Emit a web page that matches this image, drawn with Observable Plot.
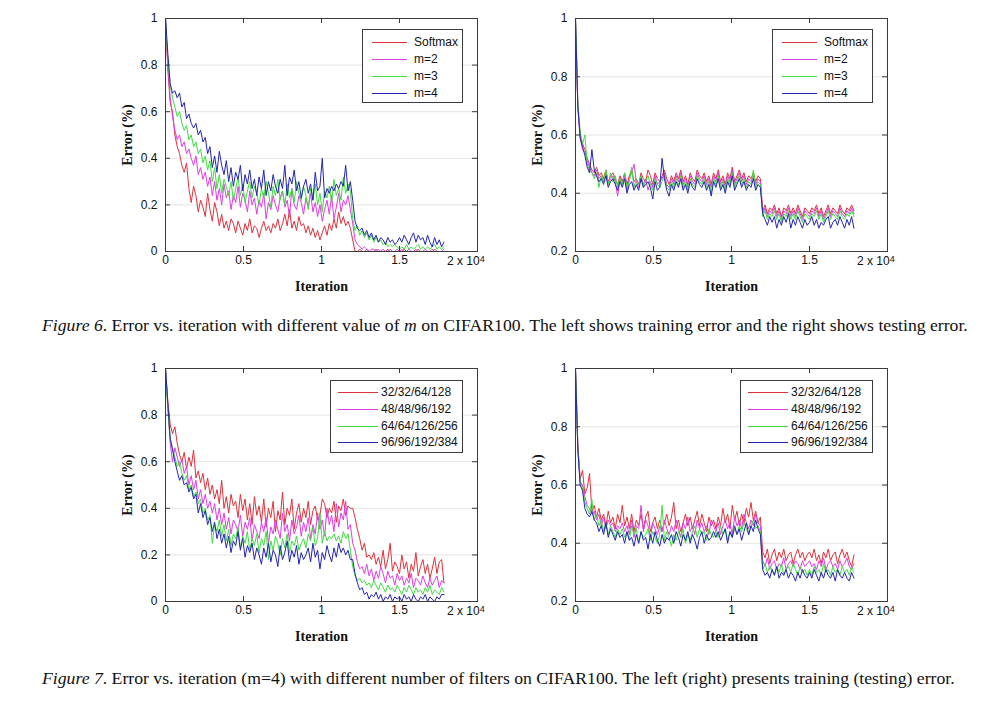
<!DOCTYPE html>
<html><head><meta charset="utf-8">
<script src="https://cdn.jsdelivr.net/npm/d3@7"></script>
<script src="https://cdn.jsdelivr.net/npm/@observablehq/plot@0.6"></script>
<style>
body{margin:0;background:#fff;}
#root{position:relative;width:1006px;height:716px;overflow:hidden;background:#fff;}
.panel{position:absolute;}
.panel svg{overflow:visible;}
g[aria-label="x-axis label"] text, g[aria-label="y-axis label"] text{font-family:"Liberation Serif","Times New Roman",serif !important;font-size:14px !important;font-weight:bold !important;fill:#111;}
.legend{position:absolute;border:1px solid #3a3a3a;background:#fff;font:12px "Liberation Sans",Arial,sans-serif;color:#111;box-sizing:border-box;}
.legend .sw{position:absolute;height:0;border-top:1px solid;}
.legend .lb{position:absolute;white-space:nowrap;line-height:14px;}
.expo{position:absolute;font:12px "Liberation Sans",Arial,sans-serif;color:#111;white-space:nowrap;line-height:14px;}
.expo sup{font-size:9px;position:relative;top:-2px;vertical-align:top;}
.caption{position:absolute;left:42px;font:17.7px "Liberation Serif","Times New Roman",serif;color:#111;white-space:nowrap;line-height:18px;}
</style></head>
<body><div id="root"></div>
<script>
// ---------- data (error in hundredths, logged every 150 iterations, 0 .. 17850) ----------
const ITER_STEP = 150;
const iterations = d3.range(0, 18000, ITER_STEP); // 120 logging points
const xTickValues = [0, 5000, 10000, 15000, 20000];
const xTickLabels = [0, 5000, 10000, 15000];
const yTicksTrain = [0, 0.2, 0.4, 0.6, 0.8, 1];
const yTicksTest = [0.2, 0.4, 0.6, 0.8, 1];
const fig6Names = ["Softmax", "m=2", "m=3", "m=4"];
const fig7Names = ["32/32/64/128", "48/48/96/192", "64/64/126/256", "96/96/192/384"];
const seriesColors = ["#e2303a", "#e03ce4", "#3fdc3f", "#2424b4"];

// Figure 6, training error
const fig6TrainSoftmax = [
100,78,64,60,50,45,42,37,34,38,27,21,28,24,17,22,19,15,25,18,
13,21,17,11,16,10,13,9,14,12,8,13,10,7,12,9,14,8,11,10,
6,10,13,9,11,8,12,10,14,9,12,16,11,18,10,13,9,15,11,12,
8,11,7,10,6,9,5,8,11,7,12,9,14,10,17,12,15,11,13,10,
5,0,0,1,0,0,1,0,0,0,1,0,0,0,0,1,0,0,0,0,
0,0,1,0,0,0,0,0,1,0,0,0,0,0,0,1,0,0,0,0];
const fig6TrainM2 = [
100,80,66,58,52,48,50,45,47,42,44,40,37,41,33,36,31,34,28,32,
24,30,22,27,20,29,23,26,18,24,21,28,19,25,22,17,26,20,23,16,
22,19,25,14,21,18,24,20,17,23,26,19,22,15,27,20,18,24,21,16,
23,19,25,17,21,15,20,13,18,22,16,24,14,19,25,17,22,20,24,18,
12,5,3,2,1,2,1,0,1,1,0,1,0,1,0,0,1,0,0,1,
0,1,0,0,1,0,0,1,0,0,0,1,0,0,1,0,0,0,0,1];
const fig6TrainM3 = [
100,82,72,66,62,58,60,55,52,54,48,50,45,47,42,44,38,41,35,39,
30,36,27,33,25,31,28,24,30,22,27,32,24,29,21,26,30,23,28,25,
20,27,23,30,25,19,28,24,31,22,26,20,29,23,27,21,30,25,22,28,
24,18,27,22,29,20,25,17,26,23,28,21,31,24,27,22,32,25,29,26,
14,9,11,7,9,6,8,5,7,4,6,4,5,3,4,2,3,2,3,2,
1,2,1,3,1,2,1,2,3,1,2,1,2,1,2,3,1,2,1,2];
const fig6TrainM4 = [
100,85,72,68,69,66,68,62,64,57,59,55,53,55,50,52,47,49,42,45,
36,41,34,43,37,33,39,30,36,28,34,31,37,26,33,29,35,27,31,24,
32,27,35,24,30,26,33,28,25,31,27,37,24,32,29,35,26,30,23,28,
31,25,29,22,34,26,28,40,23,27,25,28,26,29,27,30,28,37,26,30,
22,13,10,9,10,7,9,6,8,5,7,4,6,5,3,6,4,5,3,4,
6,4,7,5,3,6,8,4,7,5,6,3,7,4,2,6,3,5,2,4];

// Figure 6, testing error
const fig6TestSoftmax = [
100,70,60,57,55,52,50,48,47,49,46,47,45,48,44,46,47,45,43,46,
44,47,43,46,48,44,45,43,47,45,44,48,46,43,47,45,44,46,48,45,
43,46,44,47,45,48,44,46,43,47,45,44,48,46,45,47,44,46,43,47,
45,48,44,46,43,47,45,49,44,46,48,45,47,44,46,45,47,44,46,45,
34,36,33,35,34,36,33,35,32,35,34,36,33,35,33,36,34,32,35,34,
33,35,34,36,33,35,32,34,36,33,35,34,33,36,34,33,35,34,36,34];
const fig6TestM2 = [
100,69,59,55,54,51,49,47,46,48,45,46,44,47,43,45,46,44,39,45,
43,46,41,45,47,50,44,42,46,43,45,41,44,42,46,43,44,45,47,43,
42,45,43,46,44,47,43,45,42,46,44,43,47,45,44,46,43,45,42,46,
44,47,43,45,42,46,44,48,43,45,47,44,46,43,45,44,46,43,45,44,
33,35,32,34,33,35,32,34,31,34,33,35,32,34,32,35,33,31,34,33,
32,34,33,35,32,34,31,33,35,32,34,33,32,35,33,32,34,33,35,33];
const fig6TestM3 = [
100,71,61,57,60,50,48,47,45,47,42,46,44,48,43,47,44,46,42,45,
43,47,42,44,49,42,45,43,46,42,44,46,43,41,45,43,42,44,46,42,
41,44,42,45,43,46,42,44,41,45,43,42,46,44,43,45,42,44,40,45,
43,46,42,44,41,45,43,47,42,44,46,43,45,42,44,43,48,42,44,43,
32,34,31,33,32,34,31,33,30,33,32,34,31,33,31,34,32,30,33,32,
31,33,32,34,31,33,30,32,34,31,33,32,31,34,32,31,33,32,34,32];
const fig6TestM4 = [
100,70,59,56,53,49,47,55,48,46,44,45,43,46,42,44,45,43,41,44,
42,45,40,43,44,41,43,41,45,42,43,44,42,38,44,41,42,52,45,41,
39,43,41,44,42,45,41,43,40,44,42,41,45,43,42,44,41,43,39,44,
42,45,41,43,40,44,42,46,41,43,45,42,44,41,43,42,45,41,43,42,
33,31,29,32,30,32,28,31,29,32,30,33,28,31,29,32,30,28,31,29,
30,32,29,31,28,30,29,31,32,28,30,31,29,32,30,28,31,29,32,28];

// Figure 7, training error
const fig7Train32 = [
100,86,76,72,75,68,63,60,64,57,62,58,65,53,56,51,55,48,53,46,
50,44,48,42,52,40,45,38,46,41,43,36,46,39,44,35,42,33,45,37,
41,34,44,32,40,36,43,30,39,35,47,33,40,37,44,31,38,42,34,40,
36,43,33,39,41,35,37,44,42,36,40,38,43,34,41,39,44,37,41,40,
40,36,31,27,22,25,19,20,18,21,16,19,15,22,14,18,25,13,17,15,
12,20,14,17,10,16,13,21,11,15,18,12,16,10,14,19,12,17,18,8];
const fig7Train48 = [
100,84,68,60,66,62,58,61,55,58,50,54,48,52,44,48,42,46,40,43,
38,42,35,40,33,38,31,36,29,35,33,30,37,28,34,31,36,26,33,30,
27,34,30,36,25,32,29,35,31,27,38,30,33,26,35,29,32,37,28,34,
30,36,27,33,29,38,31,35,28,40,33,37,30,42,32,38,35,43,31,33,
25,22,17,14,15,12,16,11,14,9,13,10,15,12,8,13,10,11,7,12,
9,11,7,10,8,12,6,10,9,7,11,8,6,10,7,9,11,6,9,8];
const fig7Train64 = [
100,82,70,66,62,58,60,55,52,54,48,50,45,47,42,44,38,40,35,37,
25,33,30,35,28,33,26,31,24,29,27,32,23,28,25,30,22,27,24,29,
21,27,24,30,18,26,22,28,25,20,27,23,29,21,26,24,28,22,25,27,
23,29,26,32,24,27,38,25,30,26,28,27,29,26,28,25,30,27,29,22,
15,11,9,10,8,9,7,8,6,9,7,5,8,6,4,7,5,6,4,7,
5,3,6,4,7,5,3,6,4,5,3,6,4,7,3,5,4,3,6,4];
const fig7Train96 = [
100,85,70,65,60,56,52,54,50,51,47,49,44,46,38,42,36,39,33,36,
30,34,27,31,25,29,23,28,21,26,24,30,22,27,19,24,21,25,18,23,
20,16,23,19,25,17,22,20,15,24,18,21,26,17,22,19,24,16,21,18,
20,23,17,25,19,22,14,21,18,24,20,17,23,19,25,21,23,20,22,18,
18,12,8,5,6,3,4,1,3,2,4,1,3,0,2,1,3,0,2,1,
2,0,3,1,2,0,3,1,0,2,1,3,0,2,1,0,2,1,3,3];

// Figure 7, testing error
const fig7Test32 = [
100,74,62,65,57,59,64,51,53,49,52,48,50,46,51,47,49,45,50,47,
53,46,49,45,50,44,48,46,50,45,49,51,44,47,49,45,48,44,47,50,
46,49,54,45,48,44,47,50,46,49,45,48,51,46,50,47,44,49,46,48,
45,49,46,52,47,50,45,53,48,51,46,50,47,52,49,54,48,51,47,49,
37,35,38,33,36,38,34,37,35,38,34,36,37,33,36,38,35,37,34,36,
37,35,38,34,36,33,37,35,38,34,36,37,33,36,38,35,37,34,32,36];
const fig7Test48 = [
100,73,61,60,56,53,52,50,51,48,50,46,49,45,48,46,47,44,46,45,
47,44,46,43,48,42,46,45,53,44,48,46,42,47,45,43,46,44,48,45,
43,46,44,48,45,42,47,45,49,44,46,43,48,45,47,44,46,43,48,46,
44,47,43,46,48,45,47,43,49,46,48,45,50,47,45,48,46,50,47,46,
34,32,35,31,33,34,31,33,32,35,31,33,34,32,34,33,31,34,32,33,
34,32,33,31,34,32,35,31,33,34,32,33,31,34,32,33,35,32,31,33];
const fig7Test64 = [
100,72,61,59,54,52,50,55,48,50,46,48,44,47,43,46,44,42,45,43,
45,42,44,41,46,43,45,40,44,42,43,45,41,44,42,40,43,53,41,44,
42,39,43,41,44,42,45,40,43,41,44,46,42,45,43,44,41,45,43,42,
44,42,46,43,45,41,44,42,45,43,46,44,47,45,43,46,48,45,46,44,
31,33,30,32,31,29,32,30,33,29,31,32,30,33,31,29,32,30,31,29,
31,29,32,30,31,29,33,30,31,29,32,30,31,29,32,30,31,29,32,30];
const fig7Test96 = [
100,72,60,58,52,50,49,51,48,47,44,46,43,47,42,45,43,41,44,42,
43,40,44,41,42,39,43,40,44,41,42,38,43,40,44,41,39,43,40,42,
41,43,40,44,42,39,43,41,44,40,43,41,38,42,44,40,43,41,42,44,
42,44,41,43,45,40,44,42,46,43,45,41,44,47,43,46,44,48,45,43,
31,29,30,28,31,29,32,28,30,29,31,28,30,29,27,30,28,31,29,28,
30,28,31,29,27,30,28,31,29,28,30,27,31,29,28,30,28,27,30,28];

const captions = [
  '<i>Figure 6</i>. Error vs. iteration with different value of <i>m</i> on CIFAR100. The left shows training error and the right shows testing error.',
  '<i>Figure 7</i>. Error vs. iteration (m=4) with different number of filters on CIFAR100. The left (right) presents training (testing) error.'
];

// ---------- layout ----------
const W = 410, H = 300, ML = 65, MR = 33, MT = 18, MB = 49;
const innerW = W - ML - MR, innerH = H - MT - MB;
const root = document.getElementById("root");

function panel({left, top, names, values, yDomain, yTicks, legend}) {
  const rows = [];
  names.forEach((name, k) => values[k].forEach((v, i) => rows.push({series: name, iter: iterations[i], err: v / 100})));
  const axisColor = "#3a3a3a";
  const chart = Plot.plot({
    width: W, height: H,
    marginLeft: ML, marginRight: MR, marginTop: MT, marginBottom: MB,
    x: {domain: [0, 20000]},
    y: {domain: yDomain},
    color: {domain: names, range: seriesColors},
    style: {fontFamily: '"Liberation Sans", Arial, sans-serif', fontSize: "12px", color: "#111", background: "transparent"},
    marks: [
      Plot.gridY(yTicks, {stroke: "#e4e4e4", strokeOpacity: 1}),
      Plot.line(rows, {x: "iter", y: "err", z: "series", stroke: "series", strokeWidth: 1}),
      Plot.frame({stroke: axisColor}),
      Plot.tickX(xTickValues, {x: d => d, insetTop: innerH - 5, stroke: axisColor}),
      Plot.tickX(xTickValues, {x: d => d, insetBottom: innerH - 5, stroke: axisColor}),
      Plot.tickY(yTicks, {y: d => d, insetRight: innerW - 5, stroke: axisColor}),
      Plot.tickY(yTicks, {y: d => d, insetLeft: innerW - 5, stroke: axisColor}),
      Plot.axisX(xTickLabels, {tickSize: 0, tickPadding: 4, fontSize: 12, tickFormat: d => String(d / 1e4),
        label: "Iteration", labelAnchor: "center", labelArrow: "none", labelOffset: 39}),
      Plot.axisY(yTicks, {tickSize: 0, tickPadding: 8, fontSize: 12, tickFormat: d => String(d),
        label: "Error (%)", labelAnchor: "center", labelArrow: "none", labelOffset: 43})
    ]
  });
  const wrap = document.createElement("div");
  wrap.className = "panel";
  wrap.style.left = left + "px"; wrap.style.top = top + "px";
  wrap.appendChild(chart);
  root.appendChild(wrap);

  // exponent label of the x axis
  const ex = document.createElement("div");
  ex.className = "expo";
  ex.innerHTML = '2 x 10<sup>4</sup>';
  ex.style.left = (left + ML + 282) + "px";
  ex.style.top = (top + MT + innerH + 3) + "px";
  root.appendChild(ex);

  // legend box
  const lg = document.createElement("div");
  lg.className = "legend";
  Object.assign(lg.style, {left: legend.x + "px", top: legend.y + "px", width: legend.w + "px", height: legend.h + "px"});
  names.forEach((name, k) => {
    const cy = legend.row0 + k * legend.rowStep;
    const sw = document.createElement("div");
    sw.className = "sw";
    Object.assign(sw.style, {left: legend.lineX0 + "px", width: (legend.lineX1 - legend.lineX0) + "px", top: cy + "px", borderTopColor: seriesColors[k]});
    const lb = document.createElement("div");
    lb.className = "lb";
    lb.textContent = name;
    Object.assign(lb.style, {left: legend.textX + "px", top: (cy - 7) + "px"});
    lg.appendChild(sw); lg.appendChild(lb);
  });
  root.appendChild(lg);
}

const legendSmall = (x, y) => ({x, y, w: 101, h: 74, row0: 12, rowStep: 17, lineX0: 9, lineX1: 44, textX: 51});
const legendWide = (x, y) => ({x, y, w: 133, h: 73, row0: 11, rowStep: 16.8, lineX0: 7, lineX1: 47, textX: 50});

panel({left: 100, top: 0, names: fig6Names,
  values: [fig6TrainSoftmax, fig6TrainM2, fig6TrainM3, fig6TrainM4],
  yDomain: [0, 1], yTicks: yTicksTrain, legend: legendSmall(362, 29)});
panel({left: 510, top: 0, names: fig6Names,
  values: [fig6TestSoftmax, fig6TestM2, fig6TestM3, fig6TestM4],
  yDomain: [0.2, 1], yTicks: yTicksTest, legend: legendSmall(772, 29)});
panel({left: 100, top: 350, names: fig7Names,
  values: [fig7Train32, fig7Train48, fig7Train64, fig7Train96],
  yDomain: [0, 1], yTicks: yTicksTrain, legend: legendWide(330, 380)});
panel({left: 510, top: 350, names: fig7Names,
  values: [fig7Test32, fig7Test48, fig7Test64, fig7Test96],
  yDomain: [0.2, 1], yTicks: yTicksTest, legend: legendWide(740, 380)});

captions.forEach((html, k) => {
  const c = document.createElement("div");
  c.className = "caption";
  c.innerHTML = html;
  c.style.top = (k === 0 ? 316 : 669) + "px";
  root.appendChild(c);
});
</script>
</body></html>
